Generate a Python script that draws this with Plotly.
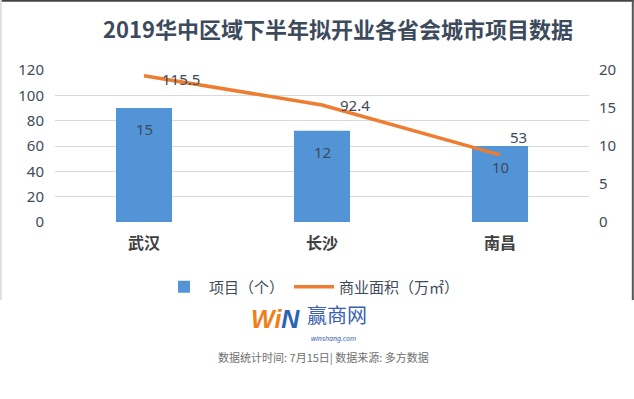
import plotly.graph_objects as go

categories = ["武汉", "长沙", "南昌"]
projects = [15, 12, 10]            # 项目（个） – right axis
area = [115.5, 92.4, 53]           # 商业面积（万㎡） – left axis
left_ticks = [0, 20, 40, 60, 80, 100, 120]
right_ticks = [0, 5, 10, 15, 20]

W, H = 634, 399
ML, MR, MT, MB = 55, 45, 70, 177
PW, PH = W - ML - MR, H - MT - MB

def px(x):
    return (x - ML) / PW

def py(y):
    return (H - MB - y) / PH

FONT = "Noto Sans, Noto Sans CJK SC, sans-serif"
CJK = "Noto Sans CJK SC, sans-serif"

fig = go.Figure()
fig.add_trace(go.Bar(
    x=categories, y=projects, name="项目（个）", yaxis="y",
    marker=dict(color="#5294d6", line=dict(width=0)), width=0.315,
))
fig.add_trace(go.Scatter(
    x=categories, y=area, name="商业面积（万㎡）", yaxis="y2",
    mode="lines", line=dict(color="#ed7d31", width=3.5),
))

ann = []
for c, v in zip(categories, projects):
    ann.append(dict(x=c, y=v, xref="x", yref="y", text=str(v), showarrow=False,
                    yanchor="middle", yshift=-21,
                    font=dict(size=15, color="#404b5a", family=FONT)))
shifts = [(16, -3, "left"), (16, 0, "left"), (8, 18, "left")]
for (c, v), (xs, ys, xa) in zip(zip(categories, area), shifts):
    ann.append(dict(x=c, y=v, xref="x", yref="y2", text=str(v), showarrow=False,
                    xanchor=xa, yanchor="middle", xshift=xs, yshift=ys,
                    font=dict(size=15, color="#404b5a", family=FONT)))

# footer logo and note
ann.append(dict(x=px(302), y=py(335), xref="paper", yref="paper", showarrow=False,
                xanchor="right",
                text="<b><i><span style='color:#f07f1b'>Wi</span><span style='color:#2a62b5'>N</span></i></b>",
                font=dict(size=25, family="Liberation Sans, sans-serif")))
ann.append(dict(x=px(305), y=py(331), xref="paper", yref="paper", showarrow=False,
                xanchor="left",
                text="赢商网", font=dict(size=20, color="#3a60b0", family=CJK)))
ann.append(dict(x=px(333), y=py(345), xref="paper", yref="paper", showarrow=False,
                text="<i>winshang.com</i>", font=dict(size=7, color="#3a60b0", family=FONT)))
ann.append(dict(x=px(323), y=py(367), xref="paper", yref="paper", showarrow=False,
                text="数据统计时间: 7月15日| 数据来源: 多方数据",
                font=dict(size=11, color="#707070", family=CJK)))

shapes = [
    dict(type="line", xref="paper", yref="paper", x0=px(0), x1=px(634), y0=py(0.8), y1=py(0.8),
         line=dict(color="#444", width=2)),
    dict(type="line", xref="paper", yref="paper", x0=px(632.8), x1=px(632.8), y0=py(0), y1=py(300),
         line=dict(color="#555", width=2)),
    dict(type="line", xref="paper", yref="paper", x0=px(0.8), x1=px(0.8), y0=py(0), y1=py(300),
         line=dict(color="#dddddd", width=2)),
]

fig.update_layout(
    width=W, height=H,
    margin=dict(l=ML, r=MR, t=MT, b=MB, pad=0),
    paper_bgcolor="white", plot_bgcolor="white",
    font=dict(family=FONT, color="#404b5a"),
    title=dict(text="<b>2019华中区域下半年拟开业各省会城市项目数据</b>",
               x=338 / W, xanchor="center", y=1 - 30 / H, yanchor="middle",
               font=dict(size=22, color="#3d4a5c", family=CJK)),
    xaxis=dict(showgrid=False, showline=False, ticks="",
               tickfont=dict(size=16, color="#404040", family=CJK, weight="bold"),
               ticklabelstandoff=10),
    yaxis=dict(side="right", range=[0, 20], tickvals=right_ticks, showgrid=False,
               zeroline=False, showline=False, ticks="",
               tickfont=dict(size=15, color="#404b5a"), ticklabelstandoff=9),
    yaxis2=dict(side="left", overlaying="y", range=[0, 120], tickvals=left_ticks,
                showgrid=True, gridcolor="#d9d9d9", gridwidth=1, zeroline=False,
                showline=False, ticks="", tickfont=dict(size=15, color="#404b5a"),
                ticklabelstandoff=10),
    showlegend=True,
    legend=dict(orientation="h", x=px(312), xanchor="center", y=py(287), yanchor="middle",
                itemwidth=40,
                font=dict(size=15, color="#404b5a", family=CJK), bgcolor="rgba(0,0,0,0)"),
    annotations=ann, shapes=shapes,
)

fig.write_html("out.html", config={"displayModeBar": False},
               post_script="document.body.style.margin='0';document.body.style.overflow='hidden';")
